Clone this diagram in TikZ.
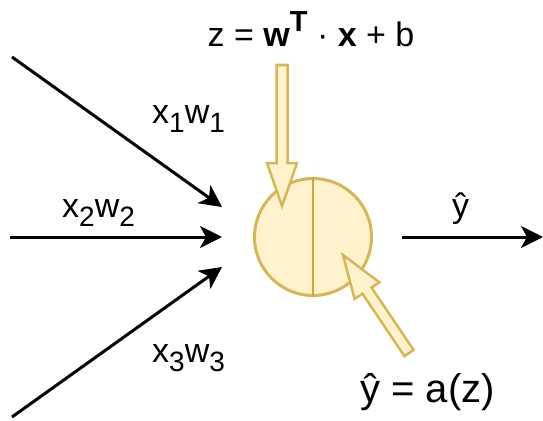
\documentclass[tikz,border=0pt]{standalone}
\usepackage{fontspec}
\setmainfont{Liberation Sans}
\usetikzlibrary{positioning,calc,arrows.meta}
\definecolor{cellfill}{HTML}{FFF2CC}
\definecolor{cellline}{HTML}{D6B656}
\definecolor{splitline}{HTML}{D4A43A}
\newcommand{\lowsub}[1]{\raisebox{-9pt}{\fontsize{28}{32}\selectfont #1}}
\newcommand{\highsup}[1]{\raisebox{15pt}{\fontsize{29}{32}\selectfont\bfseries #1}}

\begin{document}
\begin{tikzpicture}[x=1pt,y=-1pt,
    lbl/.style={inner sep=0pt,anchor=base west,font=\fontsize{34}{40}\selectfont},
    wire/.style={line width=3pt,-{Stealth[length=22pt,width=22pt,inset=6pt]}},
    blk/.style={fill=cellfill,draw=cellline,line width=2.5pt}]

\useasboundingbox (0,0) rectangle (543,420);

% Neurone
\node[circle,draw=cellline,fill=cellfill,line width=3pt,minimum size=117pt,inner sep=0pt] (neuron) at (313,237) {};
\draw[splitline,line width=2.5pt] (neuron.north) -- (neuron.south);

% Entrees
\coordinate (in1) at (12,57);
\coordinate (in2) at (10,237);
\coordinate (in3) at (12,417);
\coordinate (tip1) at (222,207);
\coordinate (tip2) at (222,237);
\coordinate (tip3) at (222,267);
\foreach \i in {1,2,3} {
    \draw[wire] (in\i) -- (tip\i);
}

% Sortie
\coordinate (yout) at (402,237);
\coordinate (yend) at (543,237);
\draw[wire] (yout) -- (yend);

% Fleches blocs
\coordinate (ztail) at (282,65);
\coordinate (ztip) at (282,206);
\coordinate (atail) at (409,353);
\coordinate (atip) at (343,255);
\foreach \t/\p in {ztail/ztip,atail/atip} {
    \coordinate (hb) at ($(\p)!43pt!(\t)$);
    \draw[blk] ($(\t)!5.5pt!90:(\p)$) -- ($(hb)!5.5pt!90:(\p)$) -- ($(hb)!15pt!90:(\p)$)
        -- (\p) -- ($(hb)!15pt!-90:(\p)$) -- ($(hb)!5.5pt!-90:(\p)$) -- ($(\t)!5.5pt!-90:(\p)$) -- cycle;
}

% Textes
\node[lbl,anchor=base] (zeq) at (311,47) {z = \textbf{w}\highsup{T} · \textbf{x} + b};
\node[lbl] (w1) at (152,123) {x\lowsub{1}w\lowsub{1}};
\node[lbl] (w2) at (62,217) {x\lowsub{2}w\lowsub{2}};
\node[lbl] (w3) at (152,362) {x\lowsub{3}w\lowsub{3}};
\node[lbl] (yhat) at (452,217) {ŷ};
\node[lbl,font=\fontsize{40}{46}\selectfont] (act) at (360,402) {ŷ = a(z)};

\end{tikzpicture}
\end{document}
